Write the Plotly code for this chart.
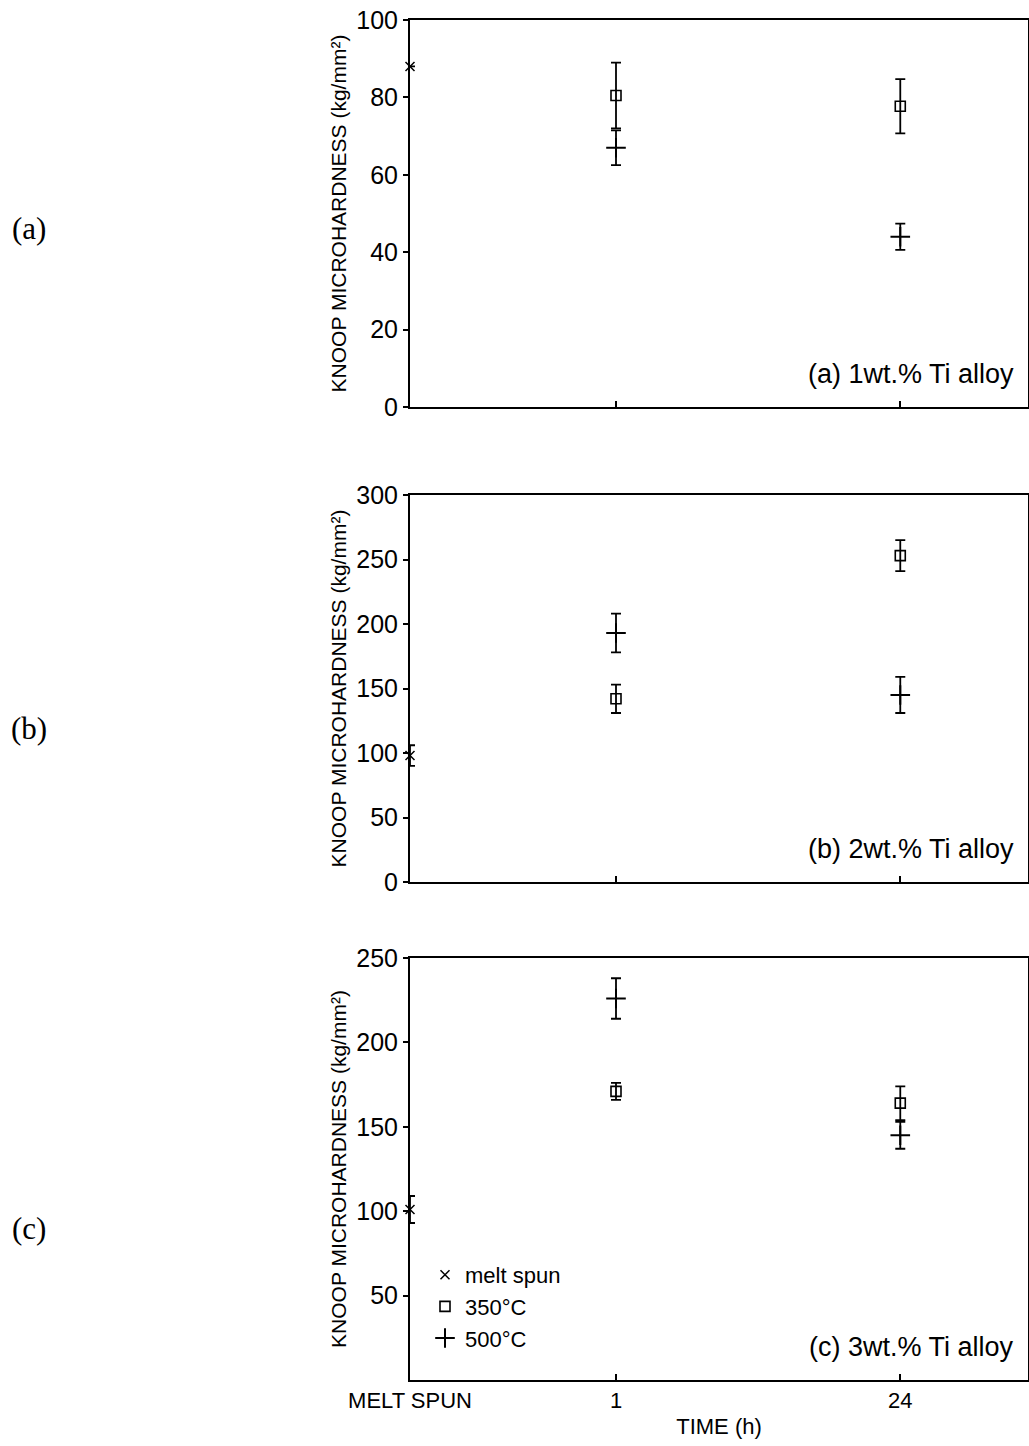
import plotly.graph_objects as go

# ---- data ----
time_labels = ["MELT SPUN", "1", "24"]
time_positions = [0, 1, 2.38]          # axis positions of the time categories

# (a) 1 wt.% Ti alloy
a_melt = [88.0];        a_melt_err = [0.0]
a_350 = [80.5, 77.7];   a_350_err = [8.5, 7.0]
a_500 = [67.0, 44.0];   a_500_err = [4.5, 3.4]

# (b) 2 wt.% Ti alloy
b_melt = [98.0];        b_melt_err = [8.0]
b_350 = [142.0, 253.0]; b_350_err = [11.0, 12.0]
b_500 = [193.0, 145.0]; b_500_err = [15.0, 14.0]

# (c) 3 wt.% Ti alloy
c_melt = [101.0];       c_melt_err = [8.0]
c_350 = [171.0, 164.0]; c_350_err = [5.0, 10.0]
c_500 = [226.0, 145.0]; c_500_err = [12.0, 8.0]

panel_titles = ["(a) 1wt.% Ti alloy", "(b) 2wt.% Ti alloy", "(c) 3wt.% Ti alloy"]
outer_labels = ["(a)", "(b)", "(c)"]
y_ranges = [[0, 100], [0, 300], [0, 250]]
y_ticks = [[0, 20, 40, 60, 80, 100], [0, 50, 100, 150, 200, 250, 300], [50, 100, 150, 200, 250]]

W, H = 1029, 1446
FONT = "Liberation Sans, Arial, sans-serif"
panels_px = [(20, 407), (495, 882), (958, 1380)]   # top, bottom pixel of each plot area
x_px = (410, 1028)

fig = go.Figure()

series = [
    (a_melt, a_melt_err, a_350, a_350_err, a_500, a_500_err),
    (b_melt, b_melt_err, b_350, b_350_err, b_500, b_500_err),
    (c_melt, c_melt_err, c_350, c_350_err, c_500, c_500_err),
]

for i, (m, me, s, se, p, pe) in enumerate(series):
    xa = "x" if i == 0 else f"x{i+1}"
    ya = "y" if i == 0 else f"y{i+1}"
    show = (i == 2)
    errstyle = dict(type="data", visible=True, color="black", thickness=1.8, width=5)
    fig.add_trace(go.Scatter(
        x=time_positions[:1], y=m, mode="markers", name="melt spun",
        marker=dict(symbol="x-thin", size=9, color="black", line=dict(width=1.5, color="black")),
        error_y=dict(array=me, **errstyle), xaxis=xa, yaxis=ya,
        showlegend=show, cliponaxis=False))
    fig.add_trace(go.Scatter(
        x=time_positions[1:], y=s, mode="markers", name="350°C",
        marker=dict(symbol="square-open", size=10, color="black", line=dict(width=1.6, color="black")),
        error_y=dict(array=se, **errstyle), xaxis=xa, yaxis=ya,
        showlegend=show, cliponaxis=False))
    fig.add_trace(go.Scatter(
        x=time_positions[1:], y=p, mode="markers", name="500°C",
        marker=dict(symbol="cross-thin", size=14, color="black", line=dict(width=2, color="black")),
        error_y=dict(array=pe, **errstyle), xaxis=xa, yaxis=ya,
        showlegend=show, cliponaxis=False))

layout = dict(
    width=W, height=H, margin=dict(l=0, r=0, t=0, b=0, autoexpand=False),
    paper_bgcolor="white", plot_bgcolor="white",
    font=dict(family=FONT, color="black"),
    showlegend=True,
    legend=dict(x=425 / W, y=1 - 1254 / H, xanchor="left", yanchor="top",
                bgcolor="rgba(0,0,0,0)", font=dict(size=22, family=FONT),
                itemwidth=30, tracegroupgap=0),
)

annotations = []
for i in range(3):
    top, bot = panels_px[i]
    xkey = "xaxis" if i == 0 else f"xaxis{i+1}"
    ykey = "yaxis" if i == 0 else f"yaxis{i+1}"
    xa_id = "x" if i == 0 else f"x{i+1}"
    ya_id = "y" if i == 0 else f"y{i+1}"
    layout[xkey] = dict(
        domain=[x_px[0] / W, x_px[1] / W], anchor=ya_id, automargin=False,
        range=[0, 3.0], showgrid=False, zeroline=False,
        showline=True, linecolor="black", linewidth=2, mirror=True,
        ticks="inside", ticklen=6, tickwidth=1.6, tickcolor="black",
        tickvals=time_positions[1:] if i < 2 else time_positions,
        ticktext=["", ""] if i < 2 else time_labels,
        tickfont=dict(size=22, family=FONT),
    )
    if i == 2:
        layout[xkey]["title"] = dict(text="TIME (h)", font=dict(size=22, family=FONT), standoff=6)
    layout[ykey] = dict(
        domain=[1 - bot / H, 1 - top / H], anchor=xa_id, automargin=False,
        range=y_ranges[i], tickvals=y_ticks[i],
        showgrid=False, zeroline=False,
        showline=True, linecolor="black", linewidth=2, mirror=True,
        ticks="outside", ticklen=5, tickwidth=1.6, tickcolor="black",
        tickfont=dict(size=25, family=FONT),
        title=dict(text="KNOOP MICROHARDNESS (kg/mm²)", font=dict(size=21, family=FONT), standoff=4),
    )
    annotations.append(dict(
        text=panel_titles[i], xref="paper", yref="paper",
        x=1016 / W, y=1 - (bot - 33) / H, xanchor="right", yanchor="middle",
        showarrow=False, font=dict(size=27, family=FONT)))
    annotations.append(dict(
        text=outer_labels[i], xref="paper", yref="paper",
        x=29 / W, y=1 - [228, 728, 1228][i] / H, xanchor="center", yanchor="middle",
        showarrow=False, font=dict(size=31, family="Liberation Serif, Times New Roman, serif")))

layout["annotations"] = annotations
fig.update_layout(**layout)
fig.write_html("out.html")
